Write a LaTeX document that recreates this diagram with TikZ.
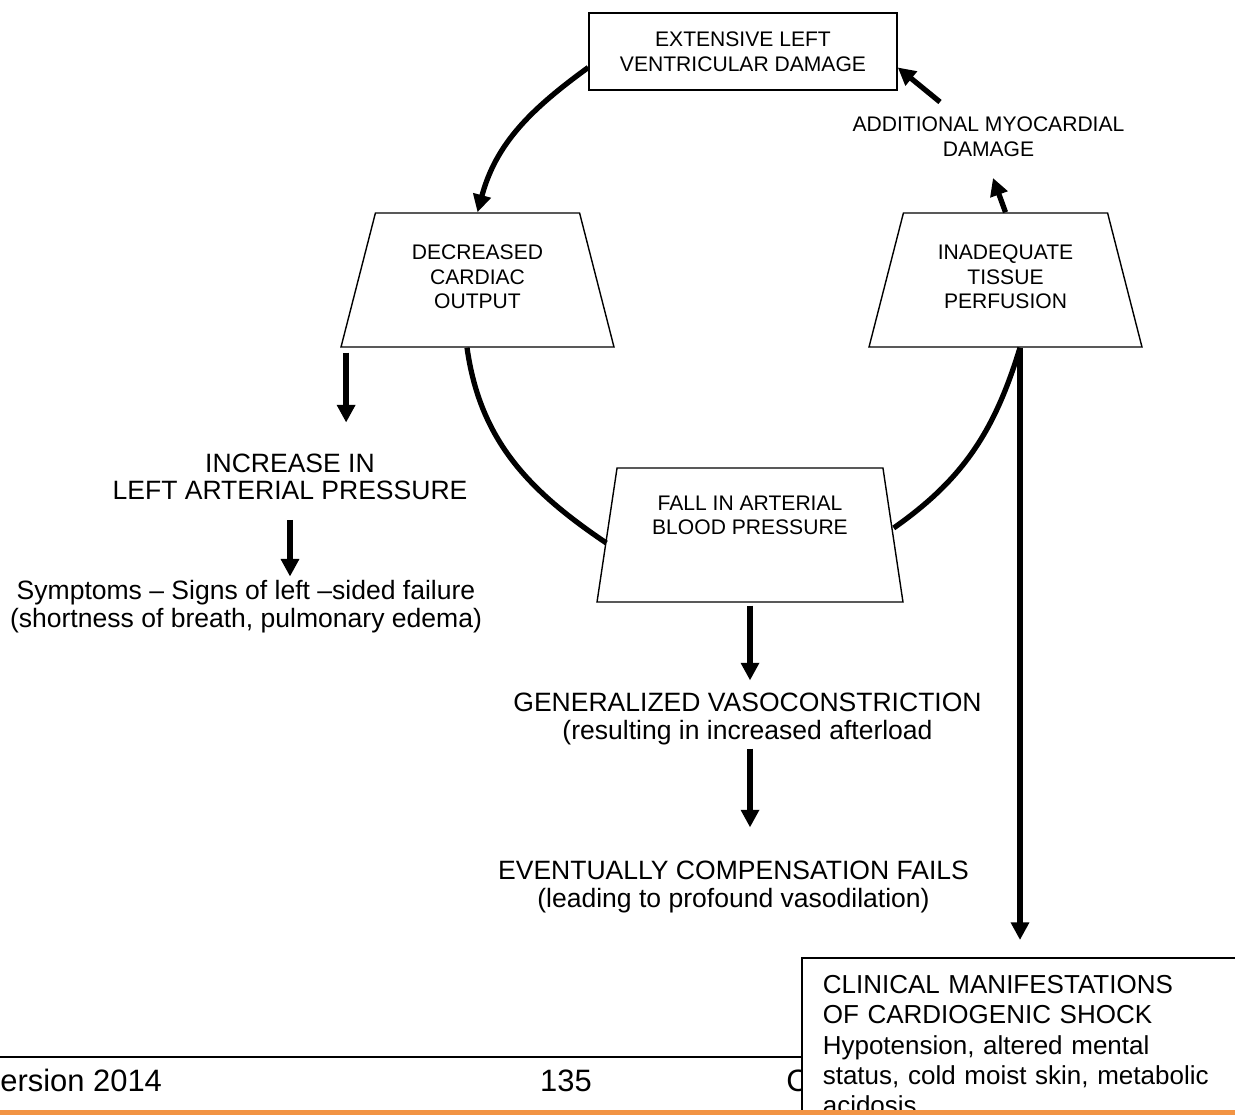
\documentclass[tikz,border=0pt]{standalone}
\usepackage{fontspec}
\setmainfont{Liberation Sans}
\usetikzlibrary{arrows.meta,shapes.geometric}

\definecolor{footorange}{RGB}{242,148,68}
\newcommand{\stagefont}{\fontsize{12}{14}\selectfont}
\newcommand{\notefont}{\fontsize{15.1}{15.6}\selectfont}
\newcommand{\shockfont}{\fontsize{14.8}{17.1}\selectfont}
\newcommand{\pagefont}{\fontsize{17.6}{20}\selectfont}

\begin{document}
\begin{tikzpicture}[x=0.02cm, y=0.02cm,
    box/.style={draw, line width=0.9pt, inner sep=0pt},
    stage/.style={trapezium, draw, line width=0.8pt, trapezium stretches body,
        inner xsep=2pt, inner ysep=0.07cm, font=\stagefont, align=center},
    stagetext/.style={font=\stagefont, align=center, inner sep=2pt},
    note/.style={font=\notefont, align=center, inner sep=2pt},
    pagetext/.style={font=\pagefont, inner sep=0pt},
    flow/.style={line width=3pt, -{Triangle[length=10pt,width=10pt]}},
    cycleline/.style={line width=3pt}]
    \useasboundingbox (0, 0) rectangle (1235, 1115);

    \node[box, minimum width=6.16cm, minimum height=1.54cm, font=\stagefont, align=center] (damage) at (743, 1063.5) {EXTENSIVE LEFT\\VENTRICULAR DAMAGE};

    \node[stage, trapezium angle=75.6, minimum width=5.46cm, text height=1.85cm, text depth=0.69cm] (output) at (477.5, 835) {DECREASED\\CARDIAC\\OUTPUT};
    \node[stage, trapezium angle=75.6, minimum width=5.46cm, text height=1.85cm, text depth=0.69cm] (perfusion) at (1005.5, 835) {INADEQUATE\\TISSUE\\PERFUSION};
    \node[stage, trapezium angle=81.5, minimum width=6.12cm, text height=1.27cm, text depth=1.27cm] (fall) at (750, 580) {FALL IN ARTERIAL\\BLOOD PRESSURE};

    \node[stagetext] (extra) at (988.5, 978) {ADDITIONAL MYOCARDIAL\\DAMAGE};

    \node[note] (pressure) at (290, 638) {INCREASE IN\\LEFT ARTERIAL PRESSURE};
    \node[note] (symptoms) at (246, 508.5) {Symptoms – Signs of left –sided failure\\(shortness of breath, pulmonary edema)};
    \node[note] (constrict) at (747.5, 396) {GENERALIZED VASOCONSTRICTION\\(resulting in increased afterload};
    \node[note] (failure) at (733.5, 228) {EVENTUALLY COMPENSATION FAILS\\(leading to profound vasodilation)};

    \draw[cycleline, -{Triangle[length=10pt,width=10pt]}] ([yshift=-0.32cm]damage.west) to[out=216, in=75] (output.north);
    \draw[cycleline] ([xshift=-0.21cm]output.south) to[out=-82, in=146] ([yshift=-0.16cm]fall.west);
    \draw[cycleline] ([yshift=0.14cm]fall.east) to[out=35, in=-107] ([xshift=0.29cm]perfusion.south);
    \draw[flow] (perfusion.north) -- ([xshift=0.09cm,yshift=-0.82cm]extra.center);
    \draw[flow] ([xshift=-0.97cm,yshift=0.7cm]extra.center) -- ([yshift=-0.32cm]damage.east);

    \coordinate (leftfoot) at ([xshift=0.12cm,yshift=-0.1cm]output.bottom left corner);
    \coordinate (perfbase) at ([xshift=0.29cm]perfusion.south);
    \draw[flow, shorten >=0.55cm] (leftfoot) -- (leftfoot |- pressure.north);
    \draw[flow, shorten <=0.32cm] (pressure.south) -- (pressure.south |- symptoms.north);
    \draw[flow, shorten <=0.06cm, shorten >=0.18cm] (fall.south) -- (fall.south |- constrict.north);
    \draw[flow, shorten >=0.6cm] (fall.south |- constrict.south) -- (fall.south |- failure.north);

    \draw[line width=0.7pt] (0, 58) -- (1235, 58);
    \node[pagetext, anchor=base west] (edition) at (0, 23) {ersion 2014};
    \node[pagetext, anchor=base] (page) at (566, 23) {135};
    \node[pagetext, anchor=base west] (owner) at (786, 23) {C};

    \node[box, fill=white, anchor=north west, font=\shockfont, align=left, text width=9.2cm,
        inner xsep=0.42cm, inner ysep=0.36cm] (clinical) at (801, 158) {CLINICAL MANIFESTATIONS\\OF CARDIOGENIC SHOCK\\Hypotension, altered mental\\status, cold moist skin, metabolic\\acidosis};
    \draw[flow, shorten >=0.34cm] (perfbase) -- (perfbase |- clinical.north);

    \draw[footorange, line width=2.85pt] (0, 2.5) -- (1235, 2.5);
\end{tikzpicture}
\end{document}
